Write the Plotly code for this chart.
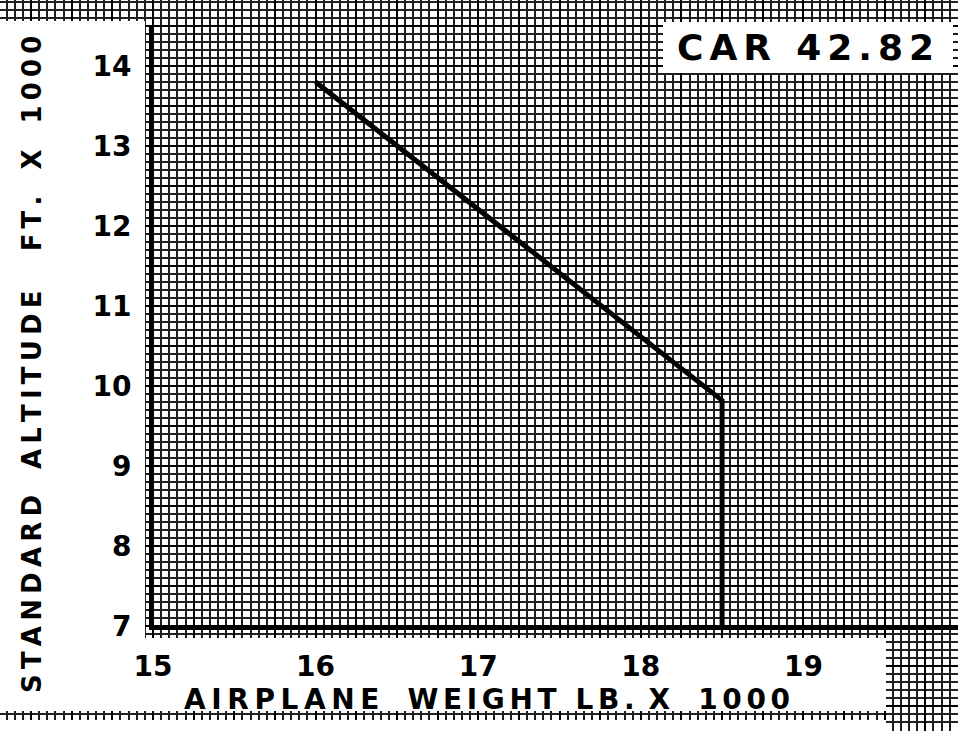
import plotly.graph_objects as go

# ---------------- data ----------------
weight_k = [16.0, 18.5, 18.5]          # airplane weight, lb x 1000
altitude_k = [13.8, 9.82, 7.0]         # standard altitude, ft x 1000
x_ticks = [15, 16, 17, 18, 19]
x_tick_labels = ["15", "16", "17", "18", "19"]
y_ticks = [7, 8, 9, 10, 11, 12, 13, 14]
y_tick_labels = ["7", "8", "9", "10", "11", "12", "13", "14"]
x_title_words = ["AIRPLANE", "WEIGHT", "LB.", "X", "1000"]
y_title_words = ["STANDARD", "ALTITUDE", "FT.", "X", "1000"]
stamp_words = ["CAR", "42.82"]

# ---------------- geometry (page pixels) ----------------
W, H = 958, 731
X0_PX, X_PER = 153.0, 162.6      # pixel of x=15, px per 1000 lb
Y0_PX, Y_PER = 626.0, 80.0       # pixel of y=7, px per 1000 ft


def px2x(px):
    return 15 + (px - X0_PX) / X_PER


def py2y(py):
    return 7 + (Y0_PX - py) / Y_PER


def spaced(words, inner, gaps):
    out = ""
    for i, w in enumerate(words):
        out += inner.join(list(w))
        if i < len(gaps):
            out += gaps[i]
    return out


FONT = "DejaVu Sans"
EM, EN, THIN, SIXTH = "\u2003", "\u2002", "\u2009", "\u2006"

fig = go.Figure()

# invisible trace to instantiate the background (graph paper) subplot
fig.add_trace(go.Scatter(x=[px2x(0)], y=[py2y(0)], mode="markers",
                         marker=dict(opacity=0), showlegend=False,
                         hoverinfo="skip"))

fig.add_trace(go.Scatter(
    x=weight_k, y=altitude_k, xaxis="x2", yaxis="y2",
    mode="lines", line=dict(color="black", width=5),
    showlegend=False, hoverinfo="skip"))

grid_minor = dict(showgrid=True, gridcolor="#202020", gridwidth=1.5)
fig.update_layout(
    width=W, height=H, autosize=False,
    margin=dict(l=0, r=0, t=0, b=0, pad=0, autoexpand=False),
    paper_bgcolor="white", plot_bgcolor="rgba(0,0,0,0)",
    showlegend=False,
    # background graph paper subplot (full page)
    xaxis=dict(domain=[0, 1], range=[px2x(0), px2x(W)], showticklabels=False,
               zeroline=False, showline=False, ticks="", automargin=False,
               tick0=15, dtick=0.25, showgrid=True, gridcolor="black", gridwidth=2.1,
               minor=dict(tick0=15, dtick=0.05, **grid_minor)),
    yaxis=dict(domain=[0, 1], range=[py2y(H), py2y(0)], showticklabels=False,
               zeroline=False, showline=False, ticks="", automargin=False,
               tick0=7, dtick=0.5, showgrid=True, gridcolor="black", gridwidth=2.1,
               minor=dict(tick0=7, dtick=0.1, **grid_minor)),
    # main chart axes
    xaxis2=dict(domain=[X0_PX / W, 1], range=[15, px2x(W)], anchor="y2",
                showgrid=False, zeroline=False, showline=True, linecolor="black",
                linewidth=4, ticks="", tickvals=x_ticks, ticktext=x_tick_labels,
                ticklabelstandoff=12, automargin=False,
                tickfont=dict(family=FONT, size=28, color="black", weight="bold")),
    yaxis2=dict(domain=[1 - Y0_PX / H, 1 - 25 / H], range=[7, py2y(25)], anchor="x2",
                showgrid=False, zeroline=False, showline=True, linecolor="black",
                linewidth=4, ticks="", tickvals=y_ticks, ticktext=y_tick_labels,
                ticklabelstandoff=12, automargin=False,
                tickfont=dict(family=FONT, size=28, color="black", weight="bold")),
)

# white (unprinted) regions above the background grid
white_boxes = [
    (0, 145, 21, 711),      # left label strip
    (0, 886, 638, 711),     # bottom label strip
    (0, 886, 720, H),       # bottom margin
    (663, 953, 22, 73),     # stamp box
]
for x_a, x_b, y_a, y_b in white_boxes:
    fig.add_shape(type="rect", xref="x", yref="y", layer="between",
                  x0=px2x(x_a), x1=px2x(x_b), y0=py2y(y_a), y1=py2y(y_b),
                  fillcolor="white", line=dict(width=0))

x_title = (spaced(x_title_words[:1], THIN, []) + EM
           + spaced(x_title_words[1:], SIXTH, [EN + SIXTH, EN, EM]))
fig.add_annotation(text=x_title,
                   xref="paper", yref="paper", x=487 / W, y=1 - 699 / H,
                   showarrow=False, xanchor="center", yanchor="middle",
                   font=dict(family=FONT, size=28, color="black", weight="bold"))
fig.add_annotation(text=spaced(y_title_words, THIN, [EM, EM + EN, EM, EM]),
                   xref="paper", yref="paper", x=32 / W, y=1 - 365 / H,
                   textangle=-90, showarrow=False, xanchor="center", yanchor="middle",
                   font=dict(family=FONT, size=26, color="black", weight="bold"))
fig.add_annotation(text=spaced(stamp_words, SIXTH, [EN + THIN]),
                   xref="paper", yref="paper", x=805 / W, y=1 - 47.5 / H,
                   showarrow=False, xanchor="center", yanchor="middle",
                   font=dict(family=FONT, size=36, color="black", weight="bold"))

fig.write_html("out.html", config={"displayModeBar": False},
               post_script="document.body.style.margin='0px';")
